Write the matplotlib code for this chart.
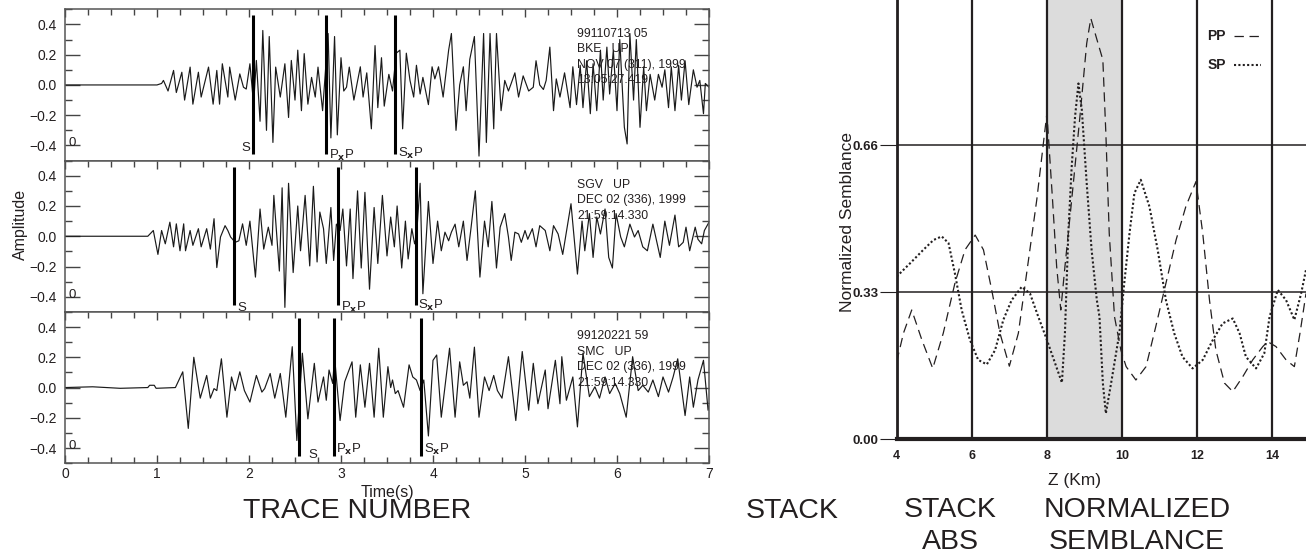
import matplotlib
matplotlib.use("Agg")
import matplotlib.pyplot as plt
from matplotlib.lines import Line2D
from matplotlib.ticker import MultipleLocator, FuncFormatter, FixedLocator

# ---------------------------------------------------------------- data
# Vertical-component seismograms (time in s, amplitude), peak-to-peak samples
trace_bke = [
    (0.0, 0.0), (0.5, 0.0), (1.0, 0.0), (1.05, 0.01), (1.07, 0.03), (1.12, -0.04),
    (1.18, 0.096), (1.21, -0.05), (1.27, 0.084), (1.30, -0.10), (1.36, 0.118),
    (1.39, -0.127), (1.45, 0.084), (1.48, -0.08), (1.56, 0.118), (1.61, -0.127),
    (1.65, 0.096), (1.68, -0.127), (1.71, 0.14), (1.77, -0.08), (1.79, 0.118),
    (1.85, -0.10), (1.90, 0.073), (1.94, -0.015), (1.97, -0.027), (2.01, 0.14),
    (2.05, -0.127), (2.08, 0.162), (2.12, -0.24), (2.15, 0.36), (2.19, -0.30),
    (2.22, 0.32), (2.26, -0.38), (2.29, 0.118), (2.34, -0.08), (2.39, 0.14),
    (2.43, -0.215), (2.46, 0.162), (2.50, -0.10), (2.53, 0.23), (2.57, -0.17),
    (2.60, 0.207), (2.64, -0.127), (2.68, 0.05), (2.72, -0.08), (2.75, 0.118),
    (2.80, -0.17), (2.86, 0.34), (2.89, -0.35), (2.93, 0.32), (2.96, -0.33),
    (3.00, 0.18), (3.03, -0.04), (3.06, -0.015), (3.09, 0.118), (3.14, -0.10),
    (3.21, 0.12), (3.24, -0.08), (3.28, 0.08), (3.33, -0.29), (3.37, 0.26),
    (3.40, -0.15), (3.44, 0.18), (3.47, -0.14), (3.52, 0.07), (3.56, -0.04),
    (3.60, 0.21), (3.64, 0.23), (3.67, -0.29), (3.71, 0.21), (3.75, 0.03),
    (3.79, -0.08), (3.82, 0.13), (3.86, -0.06), (3.89, 0.05), (3.95, -0.13),
    (3.99, 0.12), (4.02, 0.04), (4.06, 0.12), (4.11, -0.08), (4.17, 0.23),
    (4.20, 0.34), (4.25, -0.30), (4.29, 0.0), (4.33, 0.12), (4.36, -0.17),
    (4.40, 0.17), (4.45, 0.32), (4.50, -0.47), (4.55, 0.34), (4.58, -0.38),
    (4.62, 0.34), (4.66, -0.29), (4.69, 0.34), (4.74, -0.17), (4.78, 0.03),
    (4.82, -0.04), (4.85, 0.01), (4.89, 0.08), (4.93, -0.08), (4.98, 0.06),
    (5.04, -0.04), (5.09, -0.015), (5.12, 0.16), (5.16, 0.0), (5.20, -0.03),
    (5.23, 0.03), (5.27, 0.25), (5.31, -0.17), (5.34, 0.04), (5.38, -0.08),
    (5.43, 0.08), (5.49, -0.15), (5.52, 0.12), (5.56, -0.13), (5.60, 0.13),
    (5.63, -0.15), (5.67, 0.16), (5.71, -0.19), (5.74, 0.14), (5.78, -0.17),
    (5.82, 0.23), (5.85, -0.10), (5.89, 0.25), (5.92, -0.06), (5.96, 0.23),
    (6.00, -0.17), (6.03, 0.30), (6.08, -0.28), (6.11, -0.39), (6.14, 0.34),
    (6.18, -0.10), (6.21, 0.30), (6.25, -0.28), (6.29, 0.12), (6.32, -0.17),
    (6.36, 0.07), (6.41, -0.10), (6.45, 0.07), (6.49, -0.015), (6.52, 0.10),
    (6.56, -0.15), (6.59, 0.12), (6.63, -0.17), (6.67, 0.13), (6.70, -0.10),
    (6.74, 0.16), (6.78, -0.13), (6.83, 0.10), (6.87, -0.015), (6.90, 0.03),
    (6.94, -0.19), (6.96, 0.01), (7.0, -0.015),
]

trace_sgv = [
    (0.0, 0.0), (0.5, 0.0), (0.90, 0.0), (0.96, 0.038), (1.01, -0.12), (1.05, 0.038),
    (1.09, -0.05), (1.14, 0.093), (1.18, -0.07), (1.21, 0.082), (1.25, -0.096),
    (1.29, 0.082), (1.31, -0.096), (1.36, 0.038), (1.39, -0.06), (1.45, 0.05),
    (1.48, -0.07), (1.54, 0.05), (1.58, -0.085), (1.62, 0.116), (1.65, -0.207),
    (1.69, -0.005), (1.74, 0.07), (1.77, 0.038), (1.80, -0.005), (1.85, -0.04),
    (1.89, -0.03), (1.93, 0.082), (1.97, -0.06), (2.01, 0.10), (2.07, -0.27),
    (2.12, 0.18), (2.16, -0.085), (2.21, 0.06), (2.25, -0.06), (2.27, 0.27),
    (2.33, -0.23), (2.36, 0.32), (2.39, -0.47), (2.43, 0.35), (2.48, -0.24),
    (2.53, 0.20), (2.56, -0.096), (2.61, 0.27), (2.66, -0.196), (2.70, 0.33),
    (2.74, -0.17), (2.77, 0.16), (2.81, 0.05), (2.84, -0.18), (2.89, 0.19),
    (2.92, -0.16), (2.95, 0.08), (2.99, 0.038), (3.02, 0.18), (3.06, -0.196),
    (3.10, 0.18), (3.13, -0.28), (3.18, 0.30), (3.22, -0.21), (3.26, 0.29),
    (3.31, -0.35), (3.36, 0.19), (3.40, -0.18), (3.45, 0.27), (3.50, -0.13),
    (3.54, 0.127), (3.58, -0.07), (3.61, 0.20), (3.66, -0.21), (3.70, 0.10),
    (3.73, -0.15), (3.77, 0.05), (3.80, -0.05), (3.82, -0.005), (3.86, 0.35),
    (3.89, -0.38), (3.95, 0.23), (4.00, -0.18), (4.05, 0.10), (4.09, -0.096),
    (4.13, 0.027), (4.17, -0.03), (4.20, 0.027), (4.24, 0.08), (4.28, -0.07),
    (4.33, 0.10), (4.37, -0.16), (4.41, 0.038), (4.46, 0.30), (4.51, -0.27),
    (4.56, 0.10), (4.60, -0.07), (4.64, 0.23), (4.69, -0.21), (4.73, 0.06),
    (4.78, 0.15), (4.82, -0.005), (4.85, -0.16), (4.89, 0.027), (4.93, 0.015),
    (4.96, -0.04), (5.00, 0.038), (5.03, -0.02), (5.08, 0.05), (5.12, -0.07),
    (5.16, 0.07), (5.22, 0.038), (5.27, -0.096), (5.31, 0.07), (5.36, 0.015),
    (5.41, -0.12), (5.50, 0.215), (5.57, -0.25), (5.62, 0.10), (5.65, -0.096),
    (5.70, 0.15), (5.74, -0.14), (5.78, 0.127), (5.82, 0.015), (5.87, 0.18),
    (5.91, -0.14), (5.95, -0.21), (5.99, 0.15), (6.04, -0.005), (6.08, -0.07),
    (6.14, 0.08), (6.19, -0.005), (6.23, 0.038), (6.28, -0.07), (6.33, -0.096),
    (6.39, 0.08), (6.47, -0.14), (6.52, 0.10), (6.57, -0.06), (6.63, 0.14),
    (6.67, -0.07), (6.72, -0.04), (6.75, 0.06), (6.79, -0.096), (6.85, 0.06),
    (6.88, -0.02), (6.92, -0.05), (6.95, 0.038), (7.0, 0.093),
]

trace_smc = [
    (0.0, 0.0), (0.3, 0.005), (0.6, -0.005), (0.90, 0.0), (0.92, 0.015), (0.97, 0.015),
    (0.99, -0.005), (1.20, 0.0), (1.28, 0.104), (1.34, -0.27), (1.40, 0.20),
    (1.47, -0.07), (1.54, 0.08), (1.58, -0.07), (1.62, -0.007), (1.65, -0.02),
    (1.70, 0.19), (1.76, -0.196), (1.81, 0.07), (1.85, -0.02), (1.90, 0.104),
    (1.95, -0.02), (2.01, -0.096), (2.08, 0.08), (2.14, -0.03), (2.17, -0.007),
    (2.23, 0.093), (2.28, -0.07), (2.34, 0.093), (2.40, -0.196), (2.47, 0.27),
    (2.52, -0.35), (2.58, 0.227), (2.64, -0.207), (2.71, 0.16), (2.75, -0.096),
    (2.81, 0.07), (2.84, -0.084), (2.87, 0.116), (2.91, 0.027), (2.93, 0.204),
    (2.99, -0.218), (3.04, 0.038), (3.12, 0.17), (3.16, -0.196), (3.21, 0.15),
    (3.26, -0.13), (3.31, 0.16), (3.36, -0.196), (3.41, 0.26), (3.46, -0.196),
    (3.51, 0.138), (3.54, 0.0), (3.56, 0.05), (3.59, -0.04), (3.62, -0.02),
    (3.68, -0.13), (3.74, 0.15), (3.78, 0.07), (3.82, 0.05), (3.86, -0.02),
    (3.90, 0.05), (3.95, -0.32), (4.00, 0.18), (4.04, 0.215), (4.09, -0.196),
    (4.13, 0.005), (4.18, 0.26), (4.24, -0.196), (4.29, 0.17), (4.33, 0.015),
    (4.37, 0.038), (4.40, -0.07), (4.45, 0.267), (4.50, -0.196), (4.56, 0.07),
    (4.61, -0.02), (4.66, 0.08), (4.70, -0.02), (4.75, -0.07), (4.82, 0.204),
    (4.90, -0.218), (4.97, 0.238), (5.04, -0.15), (5.09, 0.16), (5.14, -0.107),
    (5.22, 0.116), (5.25, -0.14), (5.33, 0.18), (5.38, -0.107), (5.40, 0.204),
    (5.45, -0.084), (5.52, 0.07), (5.57, -0.26), (5.63, 0.227), (5.70, -0.06),
    (5.76, 0.005), (5.81, -0.07), (5.87, 0.07), (5.92, -0.04), (5.98, 0.027),
    (6.03, -0.04), (6.10, -0.196), (6.17, 0.204), (6.23, -0.02), (6.28, 0.015),
    (6.34, -0.03), (6.39, 0.05), (6.45, -0.06), (6.50, 0.07), (6.56, -0.03),
    (6.61, 0.07), (6.66, 0.19), (6.74, -0.185), (6.79, 0.07), (6.83, -0.13),
    (6.88, 0.05), (6.94, 0.18), (6.99, -0.15), (7.0, -0.12),
]

# Phase picks (s) for S, PxP and SxP on each station
picks_bke = [2.04, 2.84, 3.59]
picks_sgv = [1.84, 2.97, 3.81]
picks_smc = [2.54, 2.92, 3.87]
pick_names = ["S", r"P$_{\mathbf{x}}$P", r"S$_{\mathbf{x}}$P"]

# Header text of each record
header_bke = ["99110713 05", "BKE   UP", "NOV 07 (311), 1999", "13:05:27.419"]
header_sgv = ["SGV   UP", "DEC 02 (336), 1999", "21:59:14.330"]
header_smc = ["99120221 59", "SMC   UP", "DEC 02 (336), 1999", "21:59:14.330"]

# Normalized semblance versus depth
pp_depth = [4.0, 4.18, 4.40, 4.67, 4.96, 5.24, 5.55, 5.82, 6.09, 6.31, 6.53, 6.75,
            7.0, 7.24, 7.46, 7.73, 8.0, 8.15, 8.26, 8.37, 8.48, 8.66, 8.88, 9.06,
            9.17, 9.32, 9.49, 9.57, 9.66, 9.80, 9.97, 10.11, 10.37, 10.64, 10.90,
            11.17, 11.44, 11.70, 11.97, 12.15, 12.33, 12.50, 12.73, 12.95, 13.22,
            13.48, 13.75, 13.88, 14.10, 14.37, 14.59, 14.74, 14.9]
pp_semb = [0.174, 0.238, 0.29, 0.223, 0.159, 0.238, 0.35, 0.425, 0.458, 0.425,
           0.335, 0.238, 0.164, 0.238, 0.372, 0.537, 0.731, 0.537, 0.387, 0.29,
           0.387, 0.537, 0.724, 0.888, 0.944, 0.90, 0.851, 0.686, 0.462, 0.275,
           0.20, 0.163, 0.133, 0.163, 0.253, 0.35, 0.447, 0.522, 0.578, 0.462,
           0.312, 0.20, 0.126, 0.107, 0.141, 0.178, 0.208, 0.219, 0.208, 0.178,
           0.163, 0.238, 0.327]
sp_depth = [4.0, 4.36, 4.71, 4.98, 5.20, 5.38, 5.55, 5.73, 5.95, 6.17, 6.40, 6.62,
            6.84, 7.06, 7.33, 7.55, 7.77, 8.0, 8.22, 8.40, 8.48, 8.57, 8.66, 8.75,
            8.84, 8.93, 9.06, 9.19, 9.33, 9.40, 9.49, 9.57, 9.71, 9.93, 10.06,
            10.20, 10.33, 10.50, 10.73, 10.95, 11.17, 11.39, 11.61, 11.88, 12.15,
            12.42, 12.68, 12.95, 13.13, 13.30, 13.57, 13.79, 13.93, 14.15, 14.37,
            14.59, 14.77, 14.9]
sp_semb = [0.365, 0.395, 0.425, 0.447, 0.455, 0.44, 0.372, 0.29, 0.223, 0.178,
           0.168, 0.20, 0.268, 0.312, 0.342, 0.327, 0.275, 0.223, 0.17, 0.127,
           0.238, 0.462, 0.611, 0.724, 0.798, 0.739, 0.574, 0.425, 0.312, 0.275,
           0.126, 0.058, 0.126, 0.238, 0.35, 0.462, 0.552, 0.582, 0.522, 0.425,
           0.312, 0.238, 0.185, 0.159, 0.178, 0.223, 0.26, 0.271, 0.238, 0.185,
           0.159, 0.193, 0.275, 0.335, 0.312, 0.268, 0.327, 0.38]

depth_ticks = [4, 6, 8, 10, 12, 14]
semb_ticks = [0.0, 0.33, 0.66, 1.0]
target_zone = (8, 10)

# ---------------------------------------------------------------- style
W, H = 1306, 557
INK = "#231f20"
SANS = ["Liberation Sans", "DejaVu Sans"]

fig = plt.figure(figsize=(W / 100, H / 100), dpi=100)


def fx(px):
    return px / W


def fy(py):
    return 1 - py / H


# ---------------------------------------------------------------- seismograms
records = [
    (trace_bke, picks_bke, header_bke, [-0.416, -0.465, -0.455], ["left", "right", "right"]),
    (trace_sgv, picks_sgv, header_sgv, [-0.473, -0.473, -0.455], ["right", "right", "right"]),
    (trace_smc, picks_smc, header_smc, [-0.445, -0.41, -0.41], ["right", "right", "right"]),
]

panel_left, panel_right = 65, 709
panel_top, panel_h = 9.3, 151.3
minus = FuncFormatter(lambda v, p: f"{v:.1f}".replace("-", "\u2212"))

for i, (trace, picks, header, label_y, sides) in enumerate(records):
    top = panel_top + i * panel_h
    ax = fig.add_axes([fx(panel_left), fy(top + panel_h),
                       fx(panel_right - panel_left), panel_h / H])
    t = [p[0] for p in trace]
    a = [p[1] for p in trace]
    ax.plot(t, a, color="#1a1a1a", lw=0.85, solid_joinstyle="round")
    ax.set_xlim(0, 7)
    ax.set_ylim(-0.5, 0.5)

    for pick, name, ly, side in zip(picks, pick_names, label_y, sides):
        ax.vlines(pick, -0.455, 0.46, color="black", lw=2.2, zorder=3)
        gap = 0.11 if (i == 2 and name == "S") else 0.03
        if side == "left":
            ax.text(pick - 0.03, ly, name, ha="right", va="center",
                    fontsize=9.5, family=SANS, color=INK)
        else:
            ax.text(pick + gap, ly, name, ha="left", va="center",
                    fontsize=9.5, family=SANS, color=INK)

    ax.text(0.04, -0.385, "0", ha="left", va="center", fontsize=9.5,
            family=SANS, color=INK)
    for k, line in enumerate(header):
        ax.text(5.57, 0.34 - 0.103 * k, line, ha="left", va="center",
                fontsize=8.8, family=SANS, color=INK)

    ax.xaxis.set_major_locator(MultipleLocator(1))
    ax.xaxis.set_minor_locator(MultipleLocator(0.25))
    ax.yaxis.set_major_locator(MultipleLocator(0.2))
    ax.yaxis.set_minor_locator(MultipleLocator(0.1))
    ax.yaxis.set_major_formatter(minus)
    last = i == len(records) - 1
    ax.tick_params(axis="x", which="both", direction="in", top=True,
                   bottom=last, labelbottom=last, colors="#444",
                   labelcolor=INK, labelsize=10, pad=3)
    ax.tick_params(axis="x", which="major", length=6, width=1)
    ax.tick_params(axis="x", which="minor", length=4, width=1)
    ax.tick_params(axis="y", which="both", direction="in", left=True,
                   right=True, colors="#444", labelcolor=INK,
                   labelsize=10, pad=6)
    ax.tick_params(axis="y", which="major", length=11, width=1)
    ax.tick_params(axis="y", which="minor", length=5, width=1)
    for lab in ax.get_xticklabels() + ax.get_yticklabels():
        lab.set_family(SANS)
    for sp in ax.spines.values():
        sp.set_color("#555")
        sp.set_linewidth(1.1)

fig.text(fx(20), fy(224), "Amplitude", rotation=90, ha="center", va="center",
         fontsize=11.5, family=SANS, color=INK)
fig.text(fx(387), fy(493), "Time(s)", ha="center", va="center",
         fontsize=11.5, family=SANS, color=INK)

# ---------------------------------------------------------------- semblance
sx0, sx1 = 896.7, 1306
s_bottom, s_height = 439.3, 445.9
axs = fig.add_axes([fx(sx0), fy(s_bottom), fx(sx1 - sx0), s_height / H])
axs.axvspan(*target_zone, color="#dcdcdc", lw=0, zorder=0.2)
axs.plot(pp_depth, pp_semb, color=INK, lw=0.9, dashes=(7.5, 4.5), zorder=3)
axs.plot(sp_depth, sp_semb, color=INK, lw=1.5, dashes=(1, 1.1), zorder=3)
axs.set_xlim(4, 14.9)
axs.set_ylim(0, 1.0)
axs.set_axisbelow(True)
axs.xaxis.set_major_locator(FixedLocator(depth_ticks))
axs.yaxis.set_major_locator(FixedLocator(semb_ticks))
axs.yaxis.set_major_formatter(FuncFormatter(lambda v, p: f"{v:.2f}"))
axs.xaxis.grid(True, color=INK, lw=1.6)
axs.yaxis.grid(True, color=INK, lw=1.1)
axs.tick_params(axis="x", length=0, pad=8, labelsize=9, colors=INK)
axs.tick_params(axis="y", direction="out", length=12, width=0.8, pad=1,
                labelsize=9.5, colors=INK)
for lab in axs.get_xticklabels() + axs.get_yticklabels():
    lab.set_fontweight("bold")
    lab.set_family(SANS)
axs.spines["top"].set_visible(False)
axs.spines["right"].set_visible(False)
axs.spines["bottom"].set_linewidth(3)
axs.spines["bottom"].set_color(INK)
axs.spines["left"].set_linewidth(2)
axs.spines["left"].set_color(INK)

fig.text(fx(847), fy(222), "Normalized Semblance", rotation=90, ha="center",
         va="center", fontsize=12.5, family=SANS, color=INK)
fig.text(fx(1075), fy(480), "Z (Km)", ha="center", va="center",
         fontsize=12.5, family=SANS, color=INK)

# legend drawn as text plus line samples
for name, ly, style in [("PP", 36, dict(lw=0.9, dashes=(7.5, 4.5))),
                        ("SP", 65, dict(lw=1.5, dashes=(1, 1.1)))]:
    fig.text(fx(1226), fy(ly), name, ha="right", va="center", fontsize=10,
             fontweight="bold", family=SANS, color=INK)
    fig.add_artist(Line2D([fx(1234), fx(1261)], [fy(ly), fy(ly)],
                          transform=fig.transFigure, color=INK, **style))

# ---------------------------------------------------------------- captions
cap = dict(ha="center", va="center", fontsize=20.5, family=SANS, color=INK)
fig.text(fx(357), fy(511), "TRACE NUMBER", **cap)
fig.text(fx(792), fy(511), "STACK", **cap)
fig.text(fx(950), fy(510), "STACK", **cap)
fig.text(fx(950), fy(542), "ABS", **cap)
fig.text(fx(1137), fy(510), "NORMALIZED", **cap)
fig.text(fx(1137), fy(542), "SEMBLANCE", **cap)

fig.savefig("out.png", dpi=100)
